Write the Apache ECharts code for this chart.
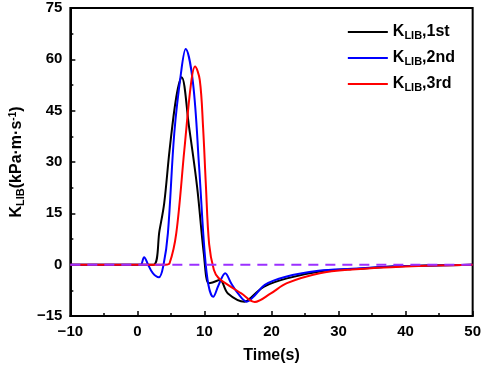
<!DOCTYPE html>
<html>
<head>
<meta charset="utf-8">
<script src="https://cdn.jsdelivr.net/npm/echarts@6/dist/echarts.min.js"></script>
<style>
  html, body { margin: 0; padding: 0; background: #fff; }
  #chart-container { width: 484px; height: 370px; }
</style>
</head>
<body>
<div id="chart-container"></div>
<script>
// values
const t1st = [-10, 0, 2.4, 3.3, 4.0, 4.8, 5.8, 6.6, 7.7, 8.9, 9.9, 10.6, 11.2, 12.3, 13.5, 16.0, 17.0, 18.9, 22.3, 27.2, 32, 40, 50];
const k1st = [0, 0, 0, 10, 18, 33.5, 49, 54.8, 40.3, 22.8, 3.3, -5.4, -5.2, -4.5, -8.4, -10.8, -9.5, -6.4, -4.0, -2.0, -1.3, -0.4, 0];

const t2nd = [-10, 0, 0.5, 1.0, 1.6, 2.3, 3.2, 3.9, 4.55, 5.5, 6.5, 7.2, 8.3, 9.2, 10.0, 10.6, 11.3, 12.1, 13.1, 14, 15, 16.3, 17.5, 19, 22, 27, 32, 40, 50];
const k2nd = [0, 0, 0, 2.2, 0, -2.5, -3.7, 0, 9.2, 38.4, 56, 63, 53, 28.7, 4.3, -6, -9.4, -6, -2.5, -5.5, -8.4, -10.8, -9, -5.9, -3.6, -1.8, -1.2, -0.4, 0];

const t3rd = [-10, 0, 4.2, 4.8, 5.8, 7.0, 8.0, 8.6, 9.3, 9.8, 10.2, 10.7, 11.4, 12.1, 13.5, 15.5, 17.5, 19.9, 22.3, 27.2, 32, 40, 50];
const k3rd = [0, 0, 0, 0.4, 9.2, 33.5, 53, 57.9, 54, 40, 23.8, 6, -1.5, -3.9, -5.9, -8.4, -10.9, -8.4, -5.4, -2.5, -1.4, -0.5, 0];

const baseT = [-10, 50];
const baseK = [0, 0];

const seriesNames = ['K_LIB,1st', 'K_LIB,2nd', 'K_LIB,3rd'];
const seriesColors = ['#000000', '#0000ff', '#ff0000'];

function pairs(ts, ks) {
  return ts.map(function (t, i) { return [t, ks[i]]; });
}

var dom = document.getElementById('chart-container');
var myChart = echarts.init(dom, null, { renderer: 'canvas' });

const fontFam = 'Liberation Sans, Arial, sans-serif';
const minus = function (v) { return String(v).replace('-', '\u2212'); };

// axis lines sit "on zero" of a hidden 0..1 helper axis, which puts them on the grid edge
const lineOn = { show: true, onZero: true, onZeroAxisIndex: 1, lineStyle: { color: '#000', width: 2 } };
const ticks = { show: true, inside: true, length: 5, lineStyle: { color: '#000', width: 1.5 } };
const minor = { show: true, splitNumber: 2, length: 3, lineStyle: { color: '#000', width: 1.5 } };
const labels = { show: true, fontSize: 15, fontWeight: 'bold', fontFamily: fontFam, color: '#000', margin: 8, formatter: minus };

var option = {
  animation: false,
  grid: {
    left: 62, right: 11, top: 8, bottom: 54,
    show: true, borderColor: '#000', borderWidth: 2
  },
  legend: {
    right: 24, top: 19,
    orient: 'vertical',
    itemWidth: 40, itemHeight: 2, itemGap: 9,
    icon: 'rect',
    data: seriesNames,
    formatter: function (name) {
      var parts = name.split(',');
      return '{b|K}{s|LIB}{b|,' + parts[1] + '}';
    },
    textStyle: {
      rich: {
        b: { fontSize: 16, fontWeight: 'bold', fontFamily: fontFam, color: '#000' },
        s: { fontSize: 11, fontWeight: 'bold', fontFamily: fontFam, color: '#000', padding: [7, 0, 0, 0] }
      }
    }
  },
  xAxis: [
    {
      type: 'value', min: -10, max: 50, interval: 10,
      name: 'Time(s)', nameLocation: 'middle', nameGap: 32,
      nameTextStyle: { fontSize: 16, fontWeight: 'bold', fontFamily: fontFam, color: '#000' },
      axisLine: lineOn, axisTick: ticks, minorTick: minor,
      splitLine: { show: false },
      axisLabel: labels
    },
    { type: 'value', min: 0, max: 1, show: false }
  ],
  yAxis: [
    {
      type: 'value', min: -15, max: 75, interval: 15,
      name: '{b|K}{s|LIB}{b|(kPa·m·s}{p|-1}{b|)}', nameLocation: 'middle', nameGap: 38, nameRotate: 90,
      nameTextStyle: {
        rich: {
          b: { fontSize: 16, fontWeight: 'bold', fontFamily: fontFam, color: '#000' },
          s: { fontSize: 11, fontWeight: 'bold', fontFamily: fontFam, color: '#000', padding: [7, 0, 0, 0] },
          p: { fontSize: 10, fontWeight: 'bold', fontFamily: fontFam, color: '#000', padding: [0, 0, 8, 0] }
        }
      },
      axisLine: lineOn, axisTick: ticks, minorTick: minor,
      splitLine: { show: false },
      axisLabel: labels
    },
    { type: 'value', min: 0, max: 1, show: false }
  ],
  series: [
    { name: seriesNames[0], type: 'line', data: pairs(t1st, k1st), smooth: 0.35, showSymbol: false,
      lineStyle: { color: seriesColors[0], width: 2 }, itemStyle: { color: seriesColors[0] } },
    { name: seriesNames[1], type: 'line', data: pairs(t2nd, k2nd), smooth: 0.35, showSymbol: false,
      lineStyle: { color: seriesColors[1], width: 2 }, itemStyle: { color: seriesColors[1] } },
    { name: seriesNames[2], type: 'line', data: pairs(t3rd, k3rd), smooth: 0.35, showSymbol: false,
      lineStyle: { color: seriesColors[2], width: 2 }, itemStyle: { color: seriesColors[2] } },
    { name: 'zero', type: 'line', data: pairs(baseT, baseK), showSymbol: false,
      lineStyle: { color: '#9b30ff', width: 2, type: [10, 7] } }
  ]
};

myChart.setOption(option);
window.addEventListener('resize', myChart.resize);
</script>
</body>
</html>
